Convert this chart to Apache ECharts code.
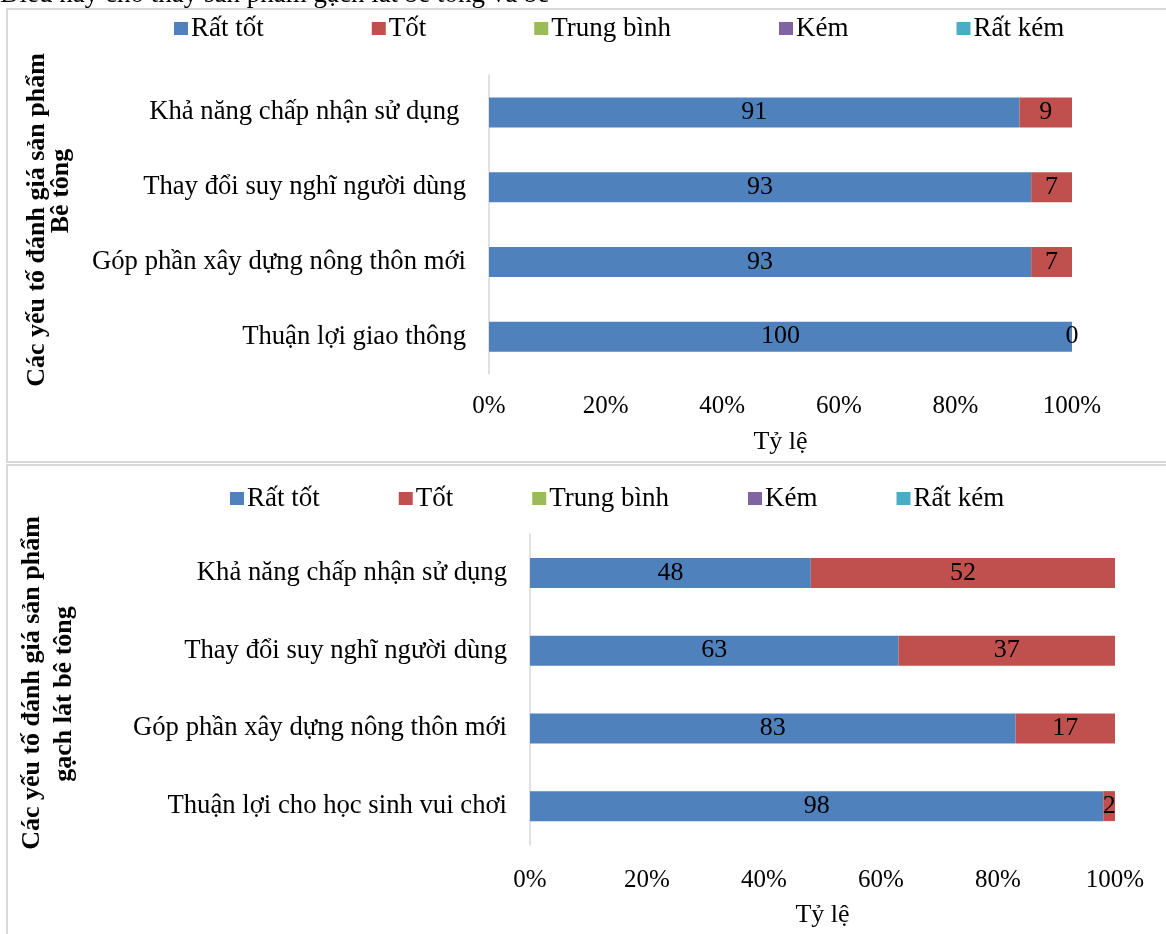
<!DOCTYPE html>
<html>
<head>
<meta charset="utf-8">
<script src="https://cdn.jsdelivr.net/npm/echarts@6/dist/echarts.min.js"></script>
<style>
html,body{margin:0;padding:0;background:#fff;}
#c{width:1166px;height:934px;}
</style>
</head>
<body>
<div id="c"></div>
<script>
// ---- data ----
const seriesNames = ['Rất tốt', 'Tốt', 'Trung bình', 'Kém', 'Rất kém'];
const seriesColors = ['#4F81BD', '#C0504D', '#9BBB59', '#8064A2', '#4BACC6'];
const xTicks = [0, 20, 40, 60, 80, 100];

const categories1 = ['Khả năng chấp nhận sử dụng ', 'Thay đổi suy nghĩ người dùng', 'Góp phần xây dựng nông thôn mới', 'Thuận lợi giao thông'];
const ratTot1 = [91, 93, 93, 100];
const tot1 = [9, 7, 7, 0];
const trungBinh1 = [null, null, null, null];
const kem1 = [null, null, null, null];
const ratKem1 = [null, null, null, null];

const categories2 = ['Khả năng chấp nhận sử dụng', 'Thay đổi suy nghĩ người dùng', 'Góp phần xây dựng nông thôn mới', 'Thuận lợi cho học sinh vui chơi'];
const ratTot2 = [48, 63, 83, 98];
const tot2 = [52, 37, 17, 2];
const trungBinh2 = [null, null, null, null];
const kem2 = [null, null, null, null];
const ratKem2 = [null, null, null, null];

const yTitle1 = ['Các yếu tố đánh giá sản phẩm', 'Bê tông'];
const yTitle2 = ['Các yếu tố đánh giá sản phẩm', 'gạch lát bê tông'];
const xTitle = 'Tỷ lệ';
const introText = 'Điều này cho thấy sản phẩm gạch lát bê tông và bê';

// ---- chart ----
const FONT = '"Liberation Serif", "Times New Roman", serif';
const chart = echarts.init(document.getElementById('c'));

function makeSeries(idx, arrays) {
  return arrays.map((arr, i) => ({
    name: seriesNames[i],
    type: 'bar',
    stack: 'total' + idx,
    xAxisIndex: idx,
    yAxisIndex: idx,
    barWidth: 30,
    data: arr,
    itemStyle: { color: seriesColors[i] },
    label: {
      show: true,
      position: 'inside',
      color: '#000',
      fontFamily: FONT,
      fontSize: 26
    },
    emphasis: { disabled: true }
  }));
}

function xAxisCfg(idx, margin, gap) {
  return {
    type: 'value', gridIndex: idx, min: xTicks[0], max: xTicks[xTicks.length - 1], interval: xTicks[1] - xTicks[0],
    axisLine: { show: false }, axisTick: { show: false }, splitLine: { show: false },
    axisLabel: { formatter: '{value}%', color: '#000', fontFamily: FONT, fontSize: 25, margin: margin },
    name: xTitle, nameLocation: 'middle', nameGap: gap,
    nameTextStyle: { color: '#000', fontFamily: FONT, fontSize: 26 }
  };
}
function yAxisCfg(idx, cats) {
  return {
    type: 'category', gridIndex: idx, data: cats, inverse: true,
    axisLine: { show: true, lineStyle: { color: '#d9d9d9', width: 1.5 } },
    axisTick: { show: false },
    axisLabel: { color: '#000', fontFamily: FONT, fontSize: 26.7, margin: 23 }
  };
}
function legendCfg(left, top, gap) {
  return {
    data: seriesNames, left: left, top: top, itemGap: gap, padding: 0,
    itemWidth: 14, itemHeight: 13, icon: 'rect',
    textStyle: { color: '#000', fontFamily: FONT, fontSize: 27, padding: [0, 0, 0, -2] }
  };
}
function rotText(x, y, text) {
  return {
    type: 'text', x: x, y: y, rotation: Math.PI / 2,
    style: { text: text, fill: '#000', font: 'bold 26px ' + FONT, align: 'center', verticalAlign: 'middle' }
  };
}

chart.setOption({
  animation: false,
  grid: [
    { left: 489, right: 94, top: 75, height: 299 },
    { left: 530, right: 51, top: 534, height: 311 }
  ],
  legend: [legendCfg(174, 15, 108), legendCfg(230, 485, 79)],
  xAxis: [xAxisCfg(0, 20, 55), xAxisCfg(1, 23, 57)],
  yAxis: [yAxisCfg(0, categories1), yAxisCfg(1, categories2)],
  series: [
    ...makeSeries(0, [ratTot1, tot1, trungBinh1, kem1, ratKem1]),
    ...makeSeries(1, [ratTot2, tot2, trungBinh2, kem2, ratKem2])
  ],
  graphic: [
    { type: 'rect', shape: { x: 7, y: 9, width: 1200, height: 453 }, style: { fill: 'none', stroke: '#d9d9d9', lineWidth: 2 }, silent: true },
    { type: 'rect', shape: { x: 7, y: 465, width: 1200, height: 500 }, style: { fill: 'none', stroke: '#d9d9d9', lineWidth: 2 }, silent: true },
    { type: 'text', x: 0, y: -5, style: { text: introText, fill: '#000', font: '27px ' + FONT, align: 'left', verticalAlign: 'middle' } },
    rotText(37, 220, yTitle1[0]),
    rotText(61, 191, yTitle1[1]),
    rotText(32, 683, yTitle2[0]),
    rotText(64, 694, yTitle2[1])
  ]
});
</script>
</body>
</html>
